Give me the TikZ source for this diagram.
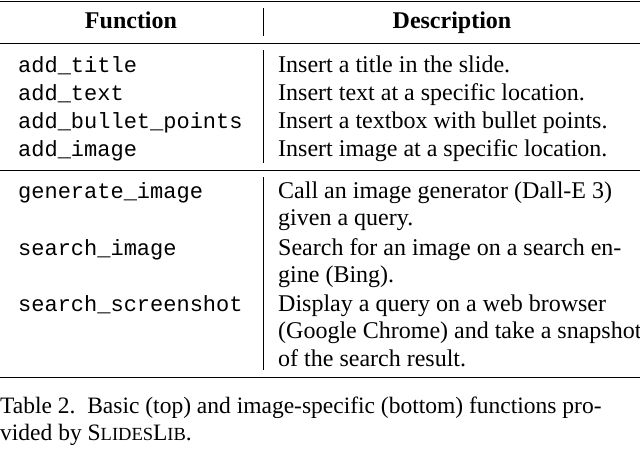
\documentclass[tikz,border=0pt]{standalone}
\usepackage{fontspec}
\setmainfont{Liberation Serif}
\setmonofont{Liberation Mono}
\begin{document}
\begin{tikzpicture}[x=1pt,y=-1pt,
  fn/.style={anchor=base west,inner sep=0pt,font=\fontsize{22}{26}\ttfamily},
  ds/.style={anchor=base west,inner sep=0pt,font=\fontsize{24}{28}\selectfont},
  hd/.style={anchor=base,inner sep=0pt,font=\fontsize{24}{28}\bfseries},
  captxt/.style={anchor=base west,inner sep=0pt,font=\fontsize{23.5}{28}\selectfont},
  toprule/.style={line width=1pt}]
\useasboundingbox (0,0) rectangle (640,448);
\draw[toprule] (0,1) -- (640,1);
\draw[line width=0.6pt] (0,43) -- (640,43);
\draw[line width=0.6pt] (0,170) -- (640,170);
\draw[toprule] (0,377) -- (640,377);
\draw[line width=0.6pt] (263,8) -- (263,36);
\draw[line width=0.6pt] (263,50) -- (263,163);
\draw[line width=0.6pt] (263,177) -- (263,370);
\node[hd] (h1) at (131,28) {Function};
\node[hd] (h2) at (452,28) {Description};
\node[fn] (f1) at (18,72) {add\_title};
\node[fn] (f2) at (18,100) {add\_text};
\node[fn] (f3) at (18,128) {add\_bullet\_points};
\node[fn] (f4) at (18,156) {add\_image};
\node[ds] (d1) at (278,72) {Insert a title in the slide.};
\node[ds] (d2) at (278,100) {Insert text at a specific location.};
\node[ds] (d3) at (278,128) {Insert a textbox with bullet points.};
\node[ds] (d4) at (278,156) {Insert image at a specific location.};
\node[fn] (f5) at (18,198) {generate\_image};
\node[fn] (f6) at (18,255) {search\_image};
\node[fn] (f7) at (18,311) {search\_screenshot};
\node[ds] (d5) at (278,198) {Call an image generator (Dall-E 3)};
\node[ds] (d5b) at (278,225) {given a query.};
\node[ds] (d6) at (278,255) {Search for an image on a search en-};
\node[ds] (d6b) at (278,282) {gine (Bing).};
\node[ds] (d7) at (278,311) {Display a query on a web browser};
\node[ds] (d7b) at (278,338) {(Google Chrome) and take a snapshot};
\node[ds] (d7c) at (278,366) {of the search result.};
\node[captxt] (c1) at (0,413) {Table 2.\enspace Basic (top) and image-specific (bottom) functions pro-};
\node[captxt] (c2) at (0,440) {vided by S{\fontsize{18.5}{22}\selectfont LIDES}L{\fontsize{18.5}{22}\selectfont IB}.};
\end{tikzpicture}
\end{document}
